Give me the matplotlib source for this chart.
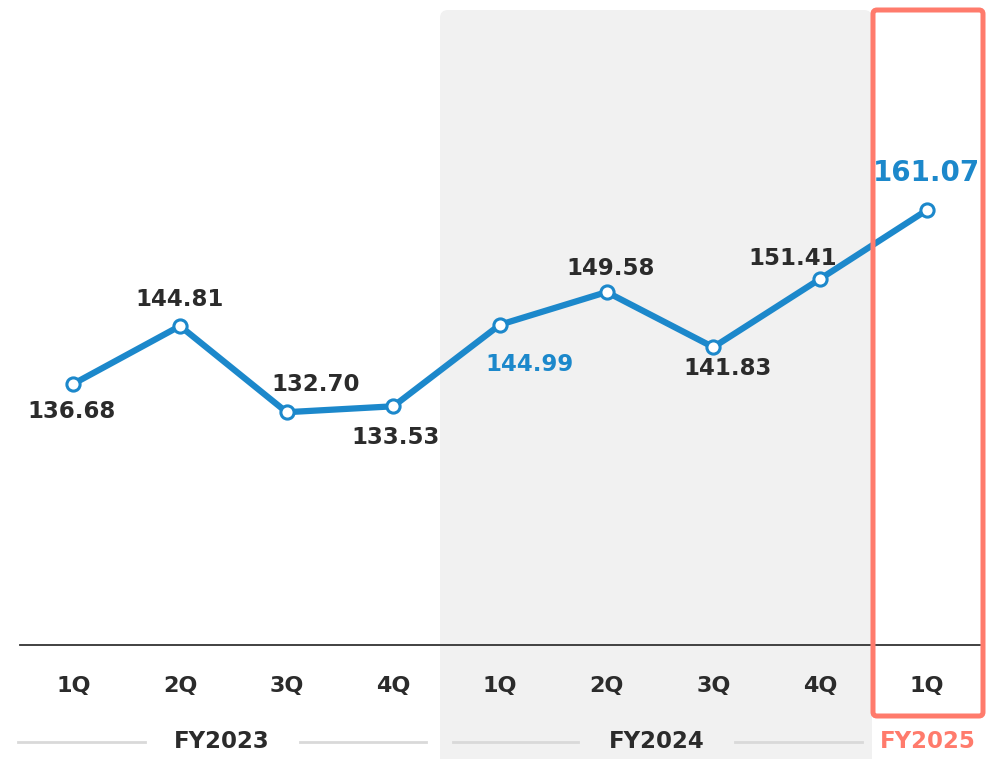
import matplotlib.pyplot as plt
import matplotlib.transforms as mtransforms
from matplotlib.patches import FancyBboxPatch
from matplotlib.lines import Line2D

# --- DATA ---
quarters = ["1Q", "2Q", "3Q", "4Q", "1Q", "2Q", "3Q", "4Q", "1Q"]
values = [136.68, 144.81, 132.70, 133.53, 144.99, 149.58, 141.83, 151.41, 161.07]
fiscal_years = ["FY2023", "FY2024", "FY2025"]

# label offsets in pixels (dx, dy) relative to each point
label_offsets = [(-2, -28), (0, 26), (29, 28), (2, -31), (30, -40),
                 (4, 24), (14, -21), (-27, 21), (0, 37)]

BLUE = "#1c88cb"
DARK = "#2b2b2b"
SALMON = "#ff7b6c"
W, H = 999, 759


def px(x, y):
    # pixel coords (origin top-left) -> figure fraction
    return x / W, 1 - y / H


fig = plt.figure(figsize=(W / 100, H / 100), dpi=100)
fig.patch.set_facecolor("white")

# background panel for FY2024
x0, y0 = px(440, 800)
x1, y1 = px(872, 10)
fig.patches.append(FancyBboxPatch((x0, y0), x1 - x0, y1 - y0,
                                  boxstyle="round,pad=0,rounding_size=0.008",
                                  transform=fig.transFigure, facecolor="#f1f1f1",
                                  edgecolor="none", zorder=-1, mutation_aspect=W / H))

ax = fig.add_axes([20 / W, 114 / H, 960 / W, 645 / H])
ax.set_facecolor("none")
ax.set_xlim(-0.5, 8.5)
ax.set_ylim(100, 190.6)
for s in ["top", "right", "left"]:
    ax.spines[s].set_visible(False)
ax.spines["bottom"].set_color("#333333")
ax.spines["bottom"].set_linewidth(1.3)
ax.set_xticks([])
ax.set_yticks([])

xs = list(range(len(values)))
ax.plot(xs, values, color=BLUE, lw=4.5, marker="o", markersize=9.5,
        markerfacecolor="white", markeredgecolor=BLUE, markeredgewidth=2.2,
        solid_capstyle="round", zorder=3)

for i, (v, (dx, dy)) in enumerate(zip(values, label_offsets)):
    color = BLUE if i in (4, 8) else DARK
    size = 20 if i == 8 else 16.5
    ax.annotate(f"{v:.2f}", (i, v), xytext=(dx, dy), textcoords="offset pixels",
                ha="center", va="center", fontsize=size, fontweight="bold",
                color=color, zorder=4)

trans = mtransforms.blended_transform_factory(ax.transData, fig.transFigure)
for i, q in enumerate(quarters):
    ax.text(i, 1 - 686 / H, q, transform=trans, ha="center", va="center",
            fontsize=16, fontweight="bold", color=DARK)

fy_y = 1 - 742 / H
fy_x = [222, 657, 928]
for i, (fy, c) in enumerate(zip(fiscal_years, fy_x)):
    color = SALMON if i == 2 else DARK
    fig.text(c / W, fy_y, fy, ha="center", va="center",
             fontsize=16.5, fontweight="bold", color=color)

# separator lines beside FY labels
for (a, b) in [(18, 145), (300, 426), (453, 578), (735, 862)]:
    fig.lines.append(Line2D([a / W, b / W], [fy_y, fy_y], transform=fig.transFigure,
                            color="#d9d9d9", lw=2))

# highlight box for latest quarter
bx0, by0 = px(873, 716)
bx1, by1 = px(983, 10)
fig.patches.append(FancyBboxPatch((bx0, by0), bx1 - bx0, by1 - by0,
                                  boxstyle="round,pad=0,rounding_size=0.004",
                                  transform=fig.transFigure, facecolor="none",
                                  edgecolor=SALMON, lw=3.6, zorder=5,
                                  mutation_aspect=W / H))

fig.savefig("out.png", dpi=100)
